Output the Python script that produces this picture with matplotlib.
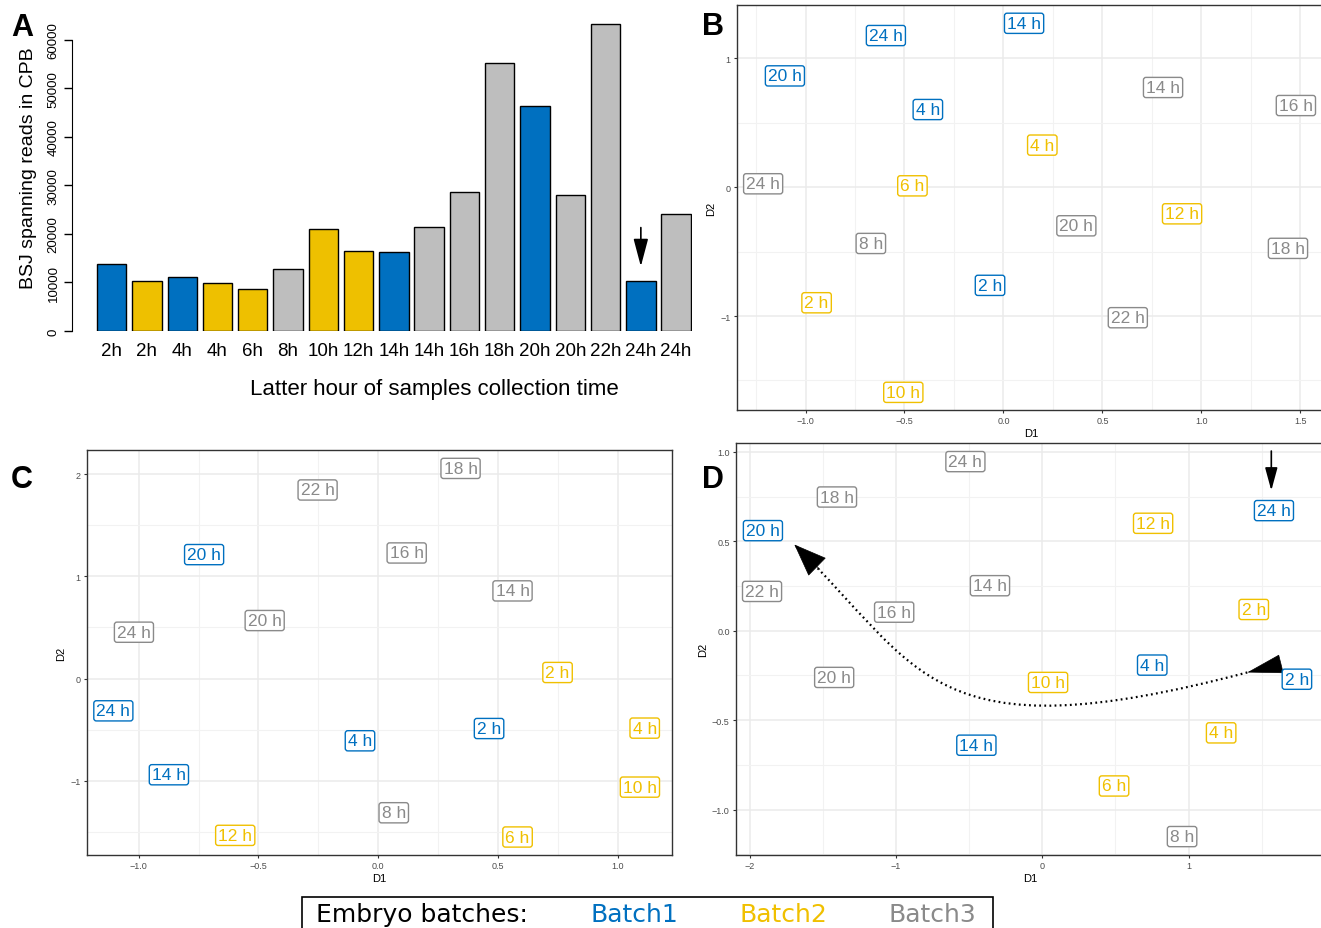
import numpy as np
import matplotlib
matplotlib.use('Agg')
import matplotlib.pyplot as plt
from matplotlib.patches import FancyArrowPatch, PathPatch, Rectangle
from matplotlib.path import Path
from matplotlib.ticker import MultipleLocator, FuncFormatter

plt.rcParams['font.family'] = ['Liberation Sans', 'DejaVu Sans']

W, H = 1321, 929

# ---------------- data ----------------
# panel A: BSJ spanning reads per sample
bar_labels = ['2h', '2h', '4h', '4h', '6h', '8h', '10h', '12h', '14h', '14h',
              '16h', '18h', '20h', '20h', '22h', '24h', '24h']
bar_values = [13700, 10400, 11100, 9900, 8700, 12700, 21100, 16500, 16300, 21400,
              28700, 55200, 46400, 28000, 63300, 10200, 24000]
bar_batch = [1, 2, 1, 2, 2, 3, 2, 2, 1, 3, 3, 3, 1, 3, 3, 1, 3]

# panel B: MDS coordinates
b_labels = ['14 h', '24 h', '20 h', '4 h', '14 h', '16 h', '4 h', '24 h', '6 h',
            '12 h', '20 h', '8 h', '18 h', '2 h', '2 h', '22 h', '10 h']
b_x = [0.104, -0.594, -1.104, -0.382, 0.806, 1.477, 0.196, -1.214, -0.460,
       0.902, 0.368, -0.670, 1.437, -0.068, -0.944, 0.628, -0.506]
b_y = [1.271, 1.176, 0.863, 0.602, 0.773, 0.633, 0.326, 0.026, 0.010,
       -0.207, -0.300, -0.437, -0.475, -0.762, -0.897, -1.013, -1.592]
b_batch = [1, 1, 1, 1, 3, 3, 2, 3, 2, 2, 3, 3, 3, 1, 2, 3, 2]

# panel C
c_labels = ['18 h', '22 h', '20 h', '16 h', '14 h', '24 h', '20 h', '2 h', '24 h',
            '2 h', '4 h', '4 h', '14 h', '10 h', '8 h', '12 h', '6 h']
c_x = [0.344, -0.253, -0.727, 0.119, 0.561, -1.020, -0.474, 0.749, -1.106,
       0.463, 1.113, -0.076, -0.874, 1.093, 0.065, -0.597, 0.582]
c_y = [2.055, 1.844, 1.212, 1.228, 0.857, 0.453, 0.567, 0.059, -0.316,
       -0.489, -0.485, -0.609, -0.941, -1.062, -1.313, -1.534, -1.550]
c_batch = [3, 3, 1, 3, 3, 3, 3, 2, 1, 1, 2, 1, 1, 2, 3, 2, 2]

# panel D
d_labels = ['24 h', '18 h', '24 h', '12 h', '20 h', '14 h', '22 h', '2 h', '16 h',
            '4 h', '20 h', '2 h', '10 h', '4 h', '14 h', '6 h', '8 h']
d_x = [-0.526, -1.404, 1.583, 0.757, -1.910, -0.358, -1.916, 1.445, -1.013,
       0.751, -1.423, 1.740, 0.039, 1.222, -0.451, 0.490, 0.955]
d_y = [0.946, 0.748, 0.672, 0.601, 0.560, 0.252, 0.220, 0.119, 0.104,
       -0.192, -0.261, -0.271, -0.289, -0.571, -0.640, -0.868, -1.151]
d_batch = [3, 3, 1, 2, 1, 3, 3, 2, 3, 1, 3, 1, 2, 2, 1, 2, 3]

batch_names = ['Batch1', 'Batch2', 'Batch3']

# annotation geometry in panel D (data units): trajectory 2 h -> 20 h
traj_pts = [(1.401, -0.233), (-0.779, -0.704), (-0.825, -0.2125), (-1.695, 0.482)]
traj_head_back = (1.630, -0.186)

# ---------------- styles ----------------
text_colors = {1: '#0070C0', 2: '#F0C000', 3: '#8A8A8A'}
fill_colors = {1: '#0070C0', 2: '#EEC000', 3: '#BEBEBE'}

fig = plt.figure(figsize=(W / 100, H / 100), dpi=100)


def px_axes(left, top, right, bottom):
    return fig.add_axes([left / W, 1 - bottom / H, (right - left) / W, (bottom - top) / H])


# ---------------- panel A ----------------
axA = px_axes(72, 16.4, 692, 332)
xpos = 0.7 + 1.2 * np.arange(len(bar_values))
axA.bar(xpos, bar_values, width=1.0, color=[fill_colors[b] for b in bar_batch],
        edgecolor='black', linewidth=1.0)
axA.set_xlim(-0.65, 20.44)
axA.set_ylim(0, 65000)
for s in ['top', 'right', 'bottom']:
    axA.spines[s].set_visible(False)
axA.spines['left'].set_bounds(0, 60000)
axA.set_yticks(range(0, 60001, 10000))
axA.tick_params(axis='y', length=6, width=1, labelsize=9.5, labelrotation=90, pad=3)
for lab in axA.get_yticklabels():
    lab.set_va('center')
axA.set_xticks(xpos, bar_labels)
axA.tick_params(axis='x', length=0, labelsize=13.5, pad=8)
axA.set_ylabel('BSJ spanning reads in CPB', fontsize=14)
axA.yaxis.set_label_coords(-0.056, 0.518)
axA.set_xlabel('Latter hour of samples collection time', fontsize=16)
axA.xaxis.set_label_coords(0.585, -0.148)
# arrow over the 24h Batch1 sample
axA.annotate('', xy=(xpos[15], 13300), xytext=(xpos[15], 21300),
             arrowprops=dict(arrowstyle='-|>,head_length=1.7,head_width=0.45',
                             color='black', lw=1.2, shrinkA=0, shrinkB=0))


# ---------------- scatter panels ----------------
def fmt(decimals):
    def f(v, pos):
        s = f'{v:.{decimals}f}'
        if float(s) == 0:
            s = s.lstrip('-')
        return s.replace('-', '\u2212')
    return FuncFormatter(f)


def mds_panel(ax, labels, xs, ys, batches, xlim, ylim, xstep, ystep, xdec, ydec):
    ax.set_xlim(*xlim)
    ax.set_ylim(*ylim)
    ax.xaxis.set_major_locator(MultipleLocator(xstep))
    ax.xaxis.set_minor_locator(MultipleLocator(xstep / 2))
    ax.yaxis.set_major_locator(MultipleLocator(ystep))
    ax.yaxis.set_minor_locator(MultipleLocator(ystep / 2))
    ax.xaxis.set_major_formatter(fmt(xdec))
    ax.yaxis.set_major_formatter(fmt(ydec))
    ax.grid(which='major', color='#EBEBEB', lw=1.1)
    ax.grid(which='minor', color='#F2F2F2', lw=0.8)
    ax.set_axisbelow(True)
    ax.tick_params(which='major', length=2.5, width=0.8, color='#333333',
                   labelcolor='#4D4D4D', labelsize=6.5, pad=2)
    ax.tick_params(which='minor', length=0)
    for s in ax.spines.values():
        s.set_color('#333333')
        s.set_linewidth(1.0)
    ax.set_xlabel('D1', fontsize=8, labelpad=2)
    ax.set_ylabel('D2', fontsize=8, labelpad=3)
    for lab, x, y, b in zip(labels, xs, ys, batches):
        c = text_colors[b]
        ax.text(x, y, lab, color=c, fontsize=12.5, ha='center', va='center',
                bbox=dict(boxstyle='round,pad=0.15', fc='white', ec=c, lw=1.0))


axB = px_axes(737, 6, 1325, 411)
mds_panel(axB, b_labels, b_x, b_y, b_batch, (-1.346, 1.624), (-1.729, 1.413), 0.5, 1, 1, 0)

axC = px_axes(87, 451, 672, 856)
mds_panel(axC, c_labels, c_x, c_y, c_batch, (-1.216, 1.227), (-1.726, 2.235), 0.5, 1, 1, 0)

axD = px_axes(736, 444, 1325, 856)
mds_panel(axD, d_labels, d_x, d_y, d_batch, (-2.094, 1.932), (-1.254, 1.05), 1, 0.5, 0, 1)

# dotted trajectory from 2 h to 20 h (Batch1), solid heads drawn on top
traj = Path(traj_pts, [Path.MOVETO, Path.CURVE4, Path.CURVE4, Path.CURVE4])
axD.add_patch(PathPatch(traj, fill=False, ec='black', lw=1.6, linestyle=(0, (0.8, 1.5))))
p2, p3 = np.array(traj_pts[2]), np.array(traj_pts[3])
axD.add_patch(FancyArrowPatch(tuple(p3 + 0.2 * (p2 - p3)), tuple(p3),
                              arrowstyle='-|>,head_length=22,head_width=8.5',
                              mutation_scale=1, color='black', lw=0.5,
                              shrinkA=0, shrinkB=0))
axD.add_patch(FancyArrowPatch(traj_head_back, traj_pts[0],
                              arrowstyle='-|>,head_length=24,head_width=6.5',
                              mutation_scale=1, color='black', lw=0.5,
                              shrinkA=0, shrinkB=0))
axD.annotate('', xy=(1.565, 0.784), xytext=(1.565, 1.005),
             arrowprops=dict(arrowstyle='-|>,head_length=1.4,head_width=0.38',
                             color='black', lw=1.2, shrinkA=0, shrinkB=0))

# ---------------- panel letters ----------------
for letter, (px, py) in zip('ABCD', [(22, 28), (713, 27), (22, 480), (713, 480)]):
    fig.text(px / W, 1 - py / H, letter, fontsize=22, fontweight='bold',
             ha='center', va='center')

# ---------------- batch legend ----------------
fig.add_artist(Rectangle((302 / W, -0.01), 691 / W, (929 - 898) / H + 0.01,
                         transform=fig.transFigure, fill=False, ec='black', lw=1.2))
fig.text(316 / W, 1 - 915 / H, 'Embryo batches:', fontsize=18, family='DejaVu Sans',
         va='center', ha='left')
for name, b, cx in zip(batch_names, [1, 2, 3], [634, 783, 932]):
    fig.text(cx / W, 1 - 915 / H, name, fontsize=18, family='DejaVu Sans',
             color=text_colors[b], va='center', ha='center')

fig.savefig('out.png', dpi=100)
